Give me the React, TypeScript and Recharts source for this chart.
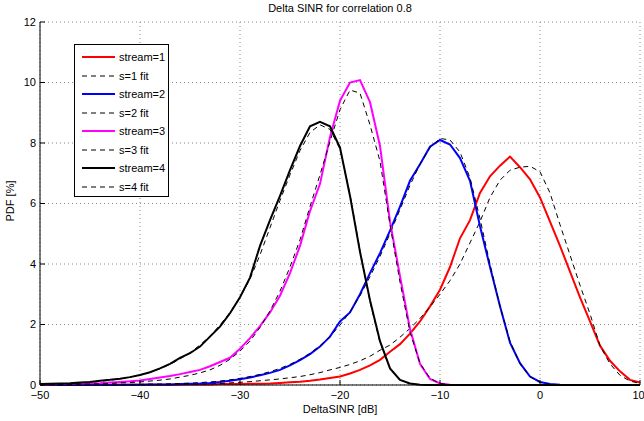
import { LineChart, Line, XAxis, YAxis, CartesianGrid } from "recharts";

const X = [
  -50, -49, -48, -47, -46, -45, -44, -43, -42, -41, -40, -39, -38, -37, -36, -35, -34, -33, -32, -31,
  -30, -29, -28, -27, -26, -25, -24, -23, -22, -21, -20, -19, -18, -17, -16, -15, -14, -13, -12, -11,
  -10, -9, -8, -7, -6, -5, -4, -3, -2, -1, 0, 1, 2, 3, 4, 5, 6, 7, 8, 9, 10,
];

const STREAM1 = [
  0, 0, 0, 0, 0, 0, 0, 0, 0.01, 0.01, 0.01, 0.01, 0.01, 0.01, 0.01, 0.02, 0.02, 0.02, 0.03, 0.03,
  0.03, 0.04, 0.04, 0.05, 0.07, 0.09, 0.11, 0.14, 0.18, 0.23, 0.28, 0.38, 0.5, 0.65, 0.83, 1.1, 1.35, 1.7, 2.1, 2.6,
  3.15, 3.9, 4.85, 5.45, 6.35, 6.9, 7.25, 7.55, 7.2, 6.8, 6.2, 5.4, 4.6, 3.75, 2.9, 2.1, 1.3, 0.8, 0.45, 0.17, 0.08,
];
const FIT1 = [
  0, 0, 0, 0, 0, 0, 0, 0, 0, 0, 0.01, 0.01, 0.01, 0.01, 0.02, 0.02, 0.03, 0.04, 0.05, 0.07,
  0.09, 0.11, 0.14, 0.17, 0.2, 0.24, 0.28, 0.34, 0.41, 0.5, 0.58, 0.68, 0.8, 0.95, 1.15, 1.32, 1.58, 1.87, 2.2, 2.58,
  3.0, 3.45, 4.0, 4.7, 5.4, 6.2, 6.77, 7.1, 7.2, 7.23, 7.05, 6.35, 5.3, 4.3, 3.3, 2.35, 1.3, 0.7, 0.32, 0.13, 0.05,
];

const STREAM2 = [
  0, 0, 0, 0, 0, 0, 0.01, 0.01, 0.01, 0.01, 0.01, 0.02, 0.02, 0.02, 0.03, 0.04, 0.05, 0.07, 0.1, 0.14,
  0.19, 0.25, 0.32, 0.4, 0.5, 0.65, 0.82, 1.02, 1.27, 1.6, 2.1, 2.4, 3.0, 3.7, 4.36, 5.1, 5.9, 6.75, 7.3, 7.88,
  8.1, 7.95, 7.5, 6.75, 5.25, 3.9, 2.6, 1.4, 0.72, 0.28, 0.1, 0.03, 0.01, 0, 0, 0, 0, 0, 0, 0, 0,
];
const FIT2 = [
  0, 0, 0, 0, 0, 0.01, 0.01, 0.01, 0.01, 0.02, 0.02, 0.03, 0.03, 0.04, 0.05, 0.06, 0.08, 0.1, 0.13, 0.17,
  0.22, 0.28, 0.35, 0.44, 0.55, 0.68, 0.85, 1.05, 1.3, 1.6, 1.98, 2.42, 2.95, 3.58, 4.25, 5.0, 5.8, 6.6, 7.3, 7.85,
  8.15, 8.1, 7.7, 6.85, 5.5, 4.0, 2.6, 1.45, 0.7, 0.28, 0.09, 0.02, 0, 0, 0, 0, 0, 0, 0, 0, 0,
];

const STREAM3 = [
  0.02, 0.02, 0.03, 0.03, 0.04, 0.05, 0.06, 0.08, 0.1, 0.12, 0.15, 0.2, 0.25, 0.3, 0.36, 0.43, 0.5, 0.62, 0.76, 0.9,
  1.2, 1.55, 1.95, 2.4, 2.95, 3.7, 4.6, 5.75, 6.65, 8.2, 9.4, 10.0, 10.08, 9.35, 7.9, 5.4, 3.6, 1.85, 0.7, 0.2,
  0.05, 0.01, 0, 0, 0, 0, 0, 0, 0, 0, 0, 0, 0, 0, 0, 0, 0, 0, 0, 0, 0,
];
const FIT3 = [
  0.01, 0.01, 0.02, 0.02, 0.03, 0.03, 0.04, 0.05, 0.07, 0.08, 0.1, 0.13, 0.16, 0.2, 0.26, 0.32, 0.4, 0.5, 0.65, 0.85,
  1.12, 1.45, 1.9, 2.45, 3.1, 3.9, 4.8, 5.9, 6.95, 8.05, 9.1, 9.75, 9.65, 8.6, 7.4, 5.3, 3.4, 1.75, 0.72, 0.22,
  0.05, 0.01, 0, 0, 0, 0, 0, 0, 0, 0, 0, 0, 0, 0, 0, 0, 0, 0, 0, 0, 0,
];

const STREAM4 = [
  0.03, 0.04, 0.05, 0.06, 0.08, 0.1, 0.14, 0.17, 0.21, 0.26, 0.33, 0.42, 0.55, 0.7, 0.9, 1.05, 1.27, 1.6, 1.93, 2.37,
  2.9, 3.55, 4.6, 5.45, 6.25, 7.1, 7.9, 8.55, 8.7, 8.55, 7.85, 6.25, 4.4, 2.8, 1.45, 0.55, 0.17, 0.05, 0.01, 0,
  0, 0, 0, 0, 0, 0, 0, 0, 0, 0, 0, 0, 0, 0, 0, 0, 0, 0, 0, 0, 0,
];
const FIT4 = [
  0.02, 0.03, 0.04, 0.05, 0.07, 0.09, 0.12, 0.16, 0.2, 0.26, 0.33, 0.42, 0.54, 0.68, 0.86, 1.07, 1.32, 1.62, 1.98, 2.4,
  2.9, 3.5, 4.3, 5.2, 6.1, 6.95, 7.75, 8.35, 8.6, 8.45, 7.8, 6.3, 4.45, 2.75, 1.4, 0.55, 0.16, 0.04, 0.01, 0,
  0, 0, 0, 0, 0, 0, 0, 0, 0, 0, 0, 0, 0, 0, 0, 0, 0, 0, 0, 0, 0,
];

const X_TICKS = [-50, -40, -30, -20, -10, 0, 10];
const Y_TICKS = [0, 2, 4, 6, 8, 10, 12];

const SERIES = [
  { key: "s1", name: "stream=1", color: "#ff0000", fit: false },
  { key: "f1", name: "s=1 fit", color: "#000000", fit: true },
  { key: "s2", name: "stream=2", color: "#0000ff", fit: false },
  { key: "f2", name: "s=2 fit", color: "#000000", fit: true },
  { key: "s3", name: "stream=3", color: "#ff00ff", fit: false },
  { key: "f3", name: "s=3 fit", color: "#000000", fit: true },
  { key: "s4", name: "stream=4", color: "#000000", fit: false },
  { key: "f4", name: "s=4 fit", color: "#000000", fit: true },
];

const FONT = "'Liberation Sans', Arial, Helvetica, sans-serif";

const data = X.map((x, i) => ({
  x,
  s1: STREAM1[i],
  f1: FIT1[i],
  s2: STREAM2[i],
  f2: FIT2[i],
  s3: STREAM3[i],
  f3: FIT3[i],
  s4: STREAM4[i],
  f4: FIT4[i],
}));

const fmt = (v: number) => (v < 0 ? `\u2212${Math.abs(v)}` : String(v));

function LegendBox() {
  return (
    <div
      style={{
        position: "absolute",
        left: 74,
        top: 44,
        width: 95,
        height: 153,
        border: "1px solid #000",
        background: "#fff",
        fontFamily: FONT,
        fontSize: 11,
        boxSizing: "border-box",
        paddingTop: 3,
      }}
    >
      {SERIES.map((s) => (
        <div key={s.key} style={{ display: "flex", alignItems: "center", height: 18.5 }}>
          <svg width={44} height={10} style={{ flex: "none" }}>
            <line
              x1={7}
              x2={40}
              y1={5}
              y2={5}
              stroke={s.color}
              strokeWidth={s.fit ? 1 : 2}
              strokeDasharray={s.fit ? "5 4" : undefined}
            />
          </svg>
          <span>{s.name}</span>
        </div>
      ))}
    </div>
  );
}

export default function App() {
  return (
    <div style={{ position: "absolute", left: 0, top: 0, width: 644, height: 421, background: "#fff" }}>
      <LineChart
        width={644}
        height={421}
        data={data}
        margin={{ top: 22, right: 4, left: 0, bottom: 0 }}
      >
        <CartesianGrid stroke="#888" strokeDasharray="1 3" strokeWidth={1} />
        <XAxis
          dataKey="x"
          type="number"
          domain={[-50, 10]}
          ticks={X_TICKS}
          tickFormatter={fmt}
          height={36}
          tickSize={-5}
          tickMargin={11}
          stroke="#000"
          tick={{ fill: "#000", fontSize: 11, fontFamily: FONT }}
        />
        <YAxis
          type="number"
          domain={[0, 12]}
          ticks={Y_TICKS}
          width={40}
          tickSize={-5}
          tickMargin={9}
          stroke="#000"
          tick={{ fill: "#000", fontSize: 11, fontFamily: FONT }}
        />
        {SERIES.map((s) => (
          <Line
            key={s.key}
            dataKey={s.key}
            name={s.name}
            type="linear"
            stroke={s.color}
            strokeWidth={s.fit ? 1 : 2}
            strokeDasharray={s.fit ? "5 4" : undefined}
            dot={false}
            activeDot={false}
            isAnimationActive={false}
          />
        ))}
      </LineChart>
      <div
        style={{
          position: "absolute",
          left: 40,
          width: 600,
          top: 2,
          textAlign: "center",
          fontFamily: FONT,
          fontSize: 11,
        }}
      >
        Delta SINR for correlation 0.8
      </div>
      <div
        style={{
          position: "absolute",
          left: 40,
          width: 600,
          top: 404,
          lineHeight: "11px",
          textAlign: "center",
          fontFamily: FONT,
          fontSize: 11,
        }}
      >
        DeltaSINR [dB]
      </div>
      <div
        style={{
          position: "absolute",
          left: 10,
          top: 201,
          transform: "translate(-50%, -50%) rotate(-90deg)",
          whiteSpace: "nowrap",
          fontFamily: FONT,
          fontSize: 11,
        }}
      >
        PDF [%]
      </div>
      <LegendBox />
    </div>
  );
}
